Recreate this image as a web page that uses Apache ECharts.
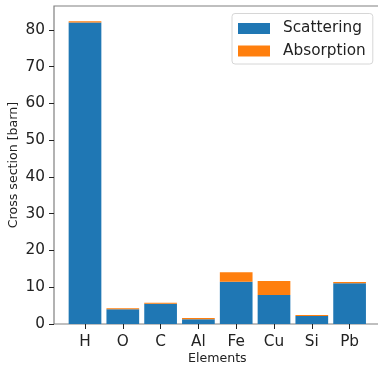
<!DOCTYPE html>
<html>
<head>
<meta charset="utf-8">
<script src="https://cdn.jsdelivr.net/npm/echarts@6/dist/echarts.min.js"></script>
<style>html,body{margin:0;padding:0;background:#fff}#c{width:378px;height:365px}</style>
</head>
<body>
<div id="c"></div>
<script>
const elements = ['H', 'O', 'C', 'Al', 'Fe', 'Cu', 'Si', 'Pb'];
const scattering = [82.0, 4.0, 5.5, 1.3, 11.5, 7.9, 2.2, 11.1];
const absorption = [0.35, 0.3, 0.3, 0.3, 2.6, 3.8, 0.25, 0.3];
const yTicks = [0, 10, 20, 30, 40, 50, 60, 70, 80];

const chart = echarts.init(document.getElementById('c'), null, {renderer: 'canvas'});
const font = 'DejaVu Sans';
const spine = 'rgba(0,0,0,0.5)';
const tickFont = 15.3, nameFont = 12.6;
chart.setOption({
  animation: false,
  grid: [
    {left: 66.1, top: 6, width: 302.4, height: 318, outerBoundsMode: 'none', containLabel: false},
    {left: 54, top: 6, width: 326.8, height: 318, outerBoundsMode: 'none', containLabel: false,
     show: true, borderColor: spine, borderWidth: 1.2, backgroundColor: 'transparent', z: 1}
  ],
  legend: {
    orient: 'vertical', left: 232, top: 13.5,
    itemWidth: 32, itemHeight: 11, itemGap: 7.5,
    padding: [7.5, 7, 5.5, 6],
    backgroundColor: 'rgba(255,255,255,0.8)', borderColor: '#d6d6d6', borderWidth: 1, borderRadius: 3,
    icon: 'rect',
    textStyle: {fontFamily: font, fontSize: tickFont, color: '#222', padding: [0, 0, 0, 8]},
    data: ['Scattering', 'Absorption']
  },
  xAxis: [
    {
      type: 'category', gridIndex: 0, data: elements, boundaryGap: true,
      name: 'Elements', nameLocation: 'middle', nameGap: 28, nameMoveOverlap: false,
      nameTextStyle: {fontFamily: font, fontSize: nameFont, color: '#222'},
      axisLine: {show: false},
      axisTick: {show: true, alignWithLabel: true, length: 5, lineStyle: {color: '#222', width: 1}},
      axisLabel: {margin: 10.5, fontFamily: font, fontSize: tickFont, color: '#222'},
      splitLine: {show: false}, z: 5
    },
    {type: 'value', gridIndex: 1, show: false, min: 0, max: 1}
  ],
  yAxis: [
    {
      type: 'value', gridIndex: 0, min: 0, max: 86.47, offset: 12.1,
      name: 'Cross section [barn]', nameLocation: 'middle', nameGap: 34, nameMoveOverlap: false,
      nameTextStyle: {fontFamily: font, fontSize: nameFont, color: '#222'},
      axisLine: {show: false},
      axisTick: {show: true, customValues: yTicks, length: 5, lineStyle: {color: '#222', width: 1}},
      axisLabel: {customValues: yTicks, margin: 9, fontFamily: font, fontSize: tickFont, color: '#222'},
      splitLine: {show: false}, z: 5
    },
    {type: 'value', gridIndex: 1, show: false, min: 0, max: 1}
  ],
  series: [
    {name: 'Scattering', type: 'bar', stack: 'total', barCategoryGap: '13.5%', xAxisIndex: 0, yAxisIndex: 0,
     itemStyle: {color: '#1f77b4'}, data: scattering},
    {name: 'Absorption', type: 'bar', stack: 'total', barCategoryGap: '13.5%', xAxisIndex: 0, yAxisIndex: 0,
     itemStyle: {color: '#ff7f0e'}, data: absorption}
  ]
});
</script>
</body>
</html>
